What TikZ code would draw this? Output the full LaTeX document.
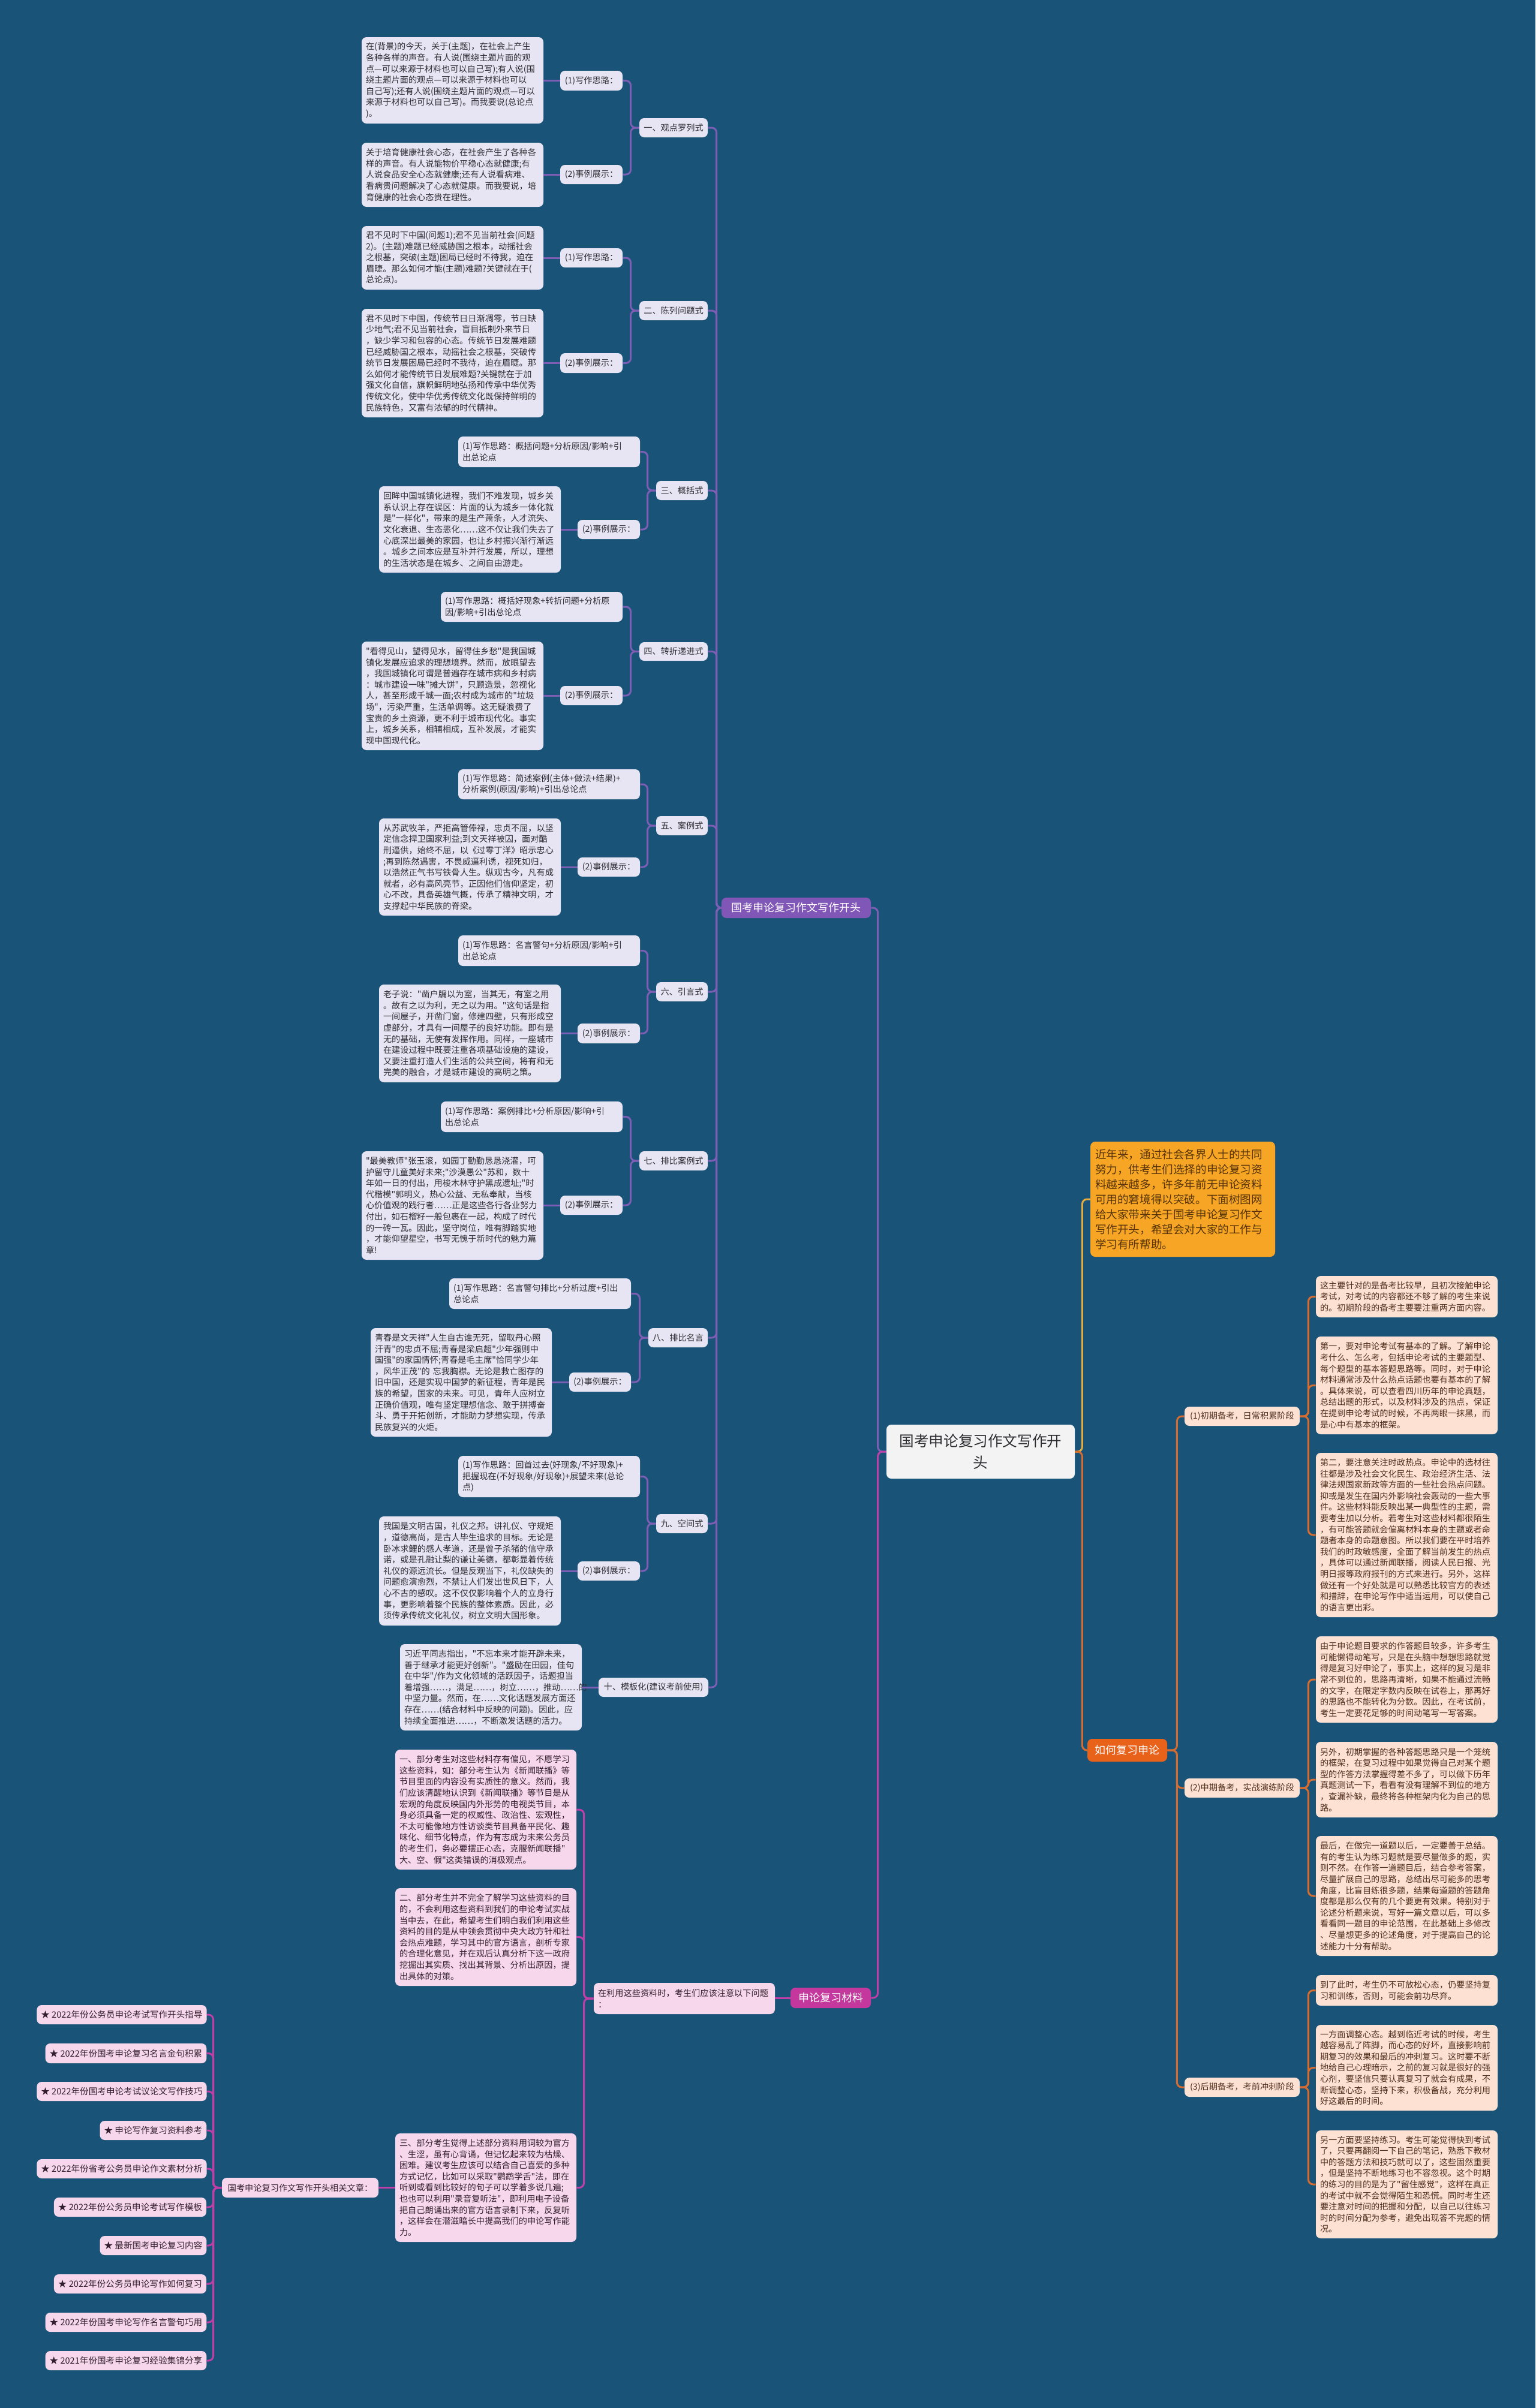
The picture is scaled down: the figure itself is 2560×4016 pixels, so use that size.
\documentclass[tikz,border=0pt]{standalone}
\usepackage{fontspec}
\newfontfamily\cjkf{Noto Sans CJK SC}
\definecolor{bgc}{RGB}{26,83,120}
\definecolor{lavF}{RGB}{231,228,243}
\definecolor{txD}{RGB}{45,45,50}
\definecolor{purL}{RGB}{124,94,180}
\definecolor{purF}{RGB}{128,86,182}
\definecolor{pinkF}{RGB}{246,215,236}
\definecolor{pinkT}{RGB}{50,30,45}
\definecolor{magL}{RGB}{192,62,168}
\definecolor{magF}{RGB}{196,56,158}
\definecolor{peachF}{RGB}{253,226,212}
\definecolor{brT}{RGB}{78,44,26}
\definecolor{orL}{RGB}{214,108,48}
\definecolor{orF}{RGB}{232,98,26}
\definecolor{yelF}{RGB}{246,166,36}
\definecolor{yelT}{RGB}{88,52,8}
\definecolor{yelL}{RGB}{228,172,64}
\definecolor{cenF}{RGB}{243,243,243}
\newcommand\MBx[7]{%
 \pgfmathsetmacro\mbW{(#5-#3)/2}%
 \pgfmathsetmacro\mbH{(#6-#4)/2}%
 \pgfmathsetmacro\mbT{(#5-#3)/2-7}%
 \node[#2,minimum width=\mbW pt,minimum height=\mbH pt,text width=\mbT pt,align=left] (#1) at ({(#3+#5)/2},{(#4+#6)/2}) {#7};}
\newcommand\MLb[7]{%
 \pgfmathsetmacro\mbW{(#5-#3)/2}%
 \pgfmathsetmacro\mbH{(#6-#4)/2}%
 \node[#2,minimum width=\mbW pt,minimum height=\mbH pt] (#1) at ({(#3+#5)/2},{(#4+#6)/2}) {#7};}
\tikzset{
 tx/.style={font=\cjkf\fontsize{7.1}{9.3}\selectfont},
 basebox/.style={rounded corners=4pt, inner xsep=3.5pt, inner ysep=1pt, draw=none},
 lav/.style={basebox, tx, fill=lavF, text=txD},
 pnk/.style={basebox, tx, fill=pinkF, text=pinkT},
 pch/.style={basebox, tx, fill=peachF, text=brT},
 itm/.style={basebox, font=\cjkf\fontsize{7.3}{9.3}\selectfont, fill=pinkF, text=pinkT},
 plab/.style={basebox, font=\cjkf\fontsize{9}{11}\selectfont, fill=purF, text=white},
 mlab/.style={basebox, font=\cjkf\fontsize{9}{11}\selectfont, fill=magF, text=white},
 olab/.style={basebox, font=\cjkf\fontsize{9}{11}\selectfont, fill=orF, text=white},
 intro/.style={basebox, inner xsep=4pt, font=\cjkf\fontsize{9.3}{12.5}\selectfont, fill=yelF, text=yelT},
 cen/.style={basebox, font=\cjkf\fontsize{12.3}{18}\selectfont, fill=cenF, text=txD, align=center},
 lnP/.style={draw=purL, line width=1.5pt, rounded corners=4pt},
 lnM/.style={draw=magL, line width=1.5pt, rounded corners=4pt},
 lnO/.style={draw=orL, line width=1.5pt, rounded corners=4pt},
 lnY/.style={draw=yelL, line width=1.5pt, rounded corners=4pt}
}
\begin{document}
\begin{tikzpicture}[x=0.5pt,y=-0.5pt]
\useasboundingbox (0,0) rectangle (2560,4016);
\fill[bgc] (0,0) rectangle (2560,4016);

% ---------- central ----------
\MLb{C}{cen}{1478}{2376}{1792}{2466}{国考申论复习作文写作开\\头}

% ---------- left purple branch ----------
\MLb{P}{plab}{1203}{1497}{1452}{1531}{国考申论复习作文写作开头}

\MLb{S1}{lav}{1066}{197}{1180}{229}{一、观点罗列式}
\MLb{L1a}{lav}{934}{118}{1038}{151}{(1)写作思路：}
\MLb{L1b}{lav}{934}{275}{1038}{307}{(2)事例展示：}
\MBx{A1}{lav}{603}{62}{906}{206}{在(背景)的今天，关于(主题)，在社会上产生\\各种各样的声音。有人说(围绕主题片面的观\\点—可以来源于材料也可以自己写);有人说(围\\绕主题片面的观点—可以来源于材料也可以\\自己写);还有人说(围绕主题片面的观点—可以\\来源于材料也可以自己写)。而我要说(总论点\\)。}
\MBx{A2}{lav}{603}{238}{906}{345}{关于培育健康社会心态，在社会产生了各种各\\样的声音。有人说能物价平稳心态就健康;有\\人说食品安全心态就健康;还有人说看病难、\\看病贵问题解决了心态就健康。而我要说，培\\育健康的社会心态贵在理性。}

\MLb{S2}{lav}{1066}{502}{1180}{534}{二、陈列问题式}
\MLb{L2a}{lav}{934}{414}{1038}{446}{(1)写作思路：}
\MLb{L2b}{lav}{934}{589}{1038}{622}{(2)事例展示：}
\MBx{B1}{lav}{603}{377}{906}{483}{君不见时下中国(问题1);君不见当前社会(问题\\2)。(主题)难题已经威胁国之根本，动摇社会\\之根基，突破(主题)困局已经时不待我，迫在\\眉睫。那么如何才能(主题)难题?关键就在于(\\总论点)。}
\MBx{B2}{lav}{603}{515}{906}{696}{君不见时下中国，传统节日日渐凋零，节日缺\\少地气;君不见当前社会，盲目抵制外来节日\\，缺少学习和包容的心态。传统节日发展难题\\已经威胁国之根本，动摇社会之根基，突破传\\统节日发展困局已经时不我待，迫在眉睫。那\\么如何才能传统节日发展难题?关键就在于加\\强文化自信，旗帜鲜明地弘扬和传承中华优秀\\传统文化，使中华优秀传统文化既保持鲜明的\\民族特色，又富有浓郁的时代精神。}

\MLb{S3}{lav}{1094}{802}{1180}{834}{三、概括式}
\MBx{L3a}{lav}{764}{728}{1067}{779}{(1)写作思路：概括问题+分析原因/影响+引\\出总论点}
\MLb{L3b}{lav}{963}{867}{1067}{899}{(2)事例展示：}
\MBx{C3}{lav}{632}{811}{935}{955}{回眸中国城镇化进程，我们不难发现，城乡关\\系认识上存在误区：片面的认为城乡一体化就\\是"一样化"，带来的是生产萧条，人才流失、\\文化衰退、生态恶化……这不仅让我们失去了\\心底深出最美的家园，也让乡村振兴渐行渐远\\。城乡之间本应是互补并行发展，所以，理想\\的生活状态是在城乡、之间自由游走。}

\MLb{S4}{lav}{1066}{1071}{1180}{1102}{四、转折递进式}
\MBx{L4a}{lav}{735}{987}{1038}{1037}{(1)写作思路：概括好现象+转折问题+分析原\\因/影响+引出总论点}
\MLb{L4b}{lav}{934}{1144}{1038}{1176}{(2)事例展示：}
\MBx{D4}{lav}{603}{1070}{906}{1251}{"看得见山，望得见水，留得住乡愁"是我国城\\镇化发展应追求的理想境界。然而，放眼望去\\，我国城镇化可谓是普遍存在城市病和乡村病\\：城市建设一味"摊大饼"，只顾造景，忽视化\\人，甚至形成千城一面;农村成为城市的"垃圾\\场"，污染严重，生活单调等。这无疑浪费了\\宝贵的乡土资源，更不利于城市现代化。事实\\上，城乡关系，相辅相成，互补发展，才能实\\现中国现代化。}

\MLb{S5}{lav}{1094}{1361}{1180}{1393}{五、案例式}
\MBx{L5a}{lav}{764}{1283}{1067}{1333}{(1)写作思路：简述案例(主体+做法+结果)+\\分析案例(原因/影响)+引出总论点}
\MLb{L5b}{lav}{963}{1430}{1067}{1462}{(2)事例展示：}
\MBx{E5}{lav}{632}{1365}{935}{1527}{从苏武牧羊，严拒高管俸禄，忠贞不屈，以坚\\定信念捍卫国家利益;到文天祥被囚，面对酷\\刑逼供，始终不屈，以《过零丁洋》昭示忠心\\;再到陈然遇害，不畏威逼利诱，视死如归，\\以浩然正气书写铁骨人生。纵观古今，凡有成\\就者，必有高风亮节，正因他们信仰坚定，初\\心不改，具备英雄气概，传承了精神文明，才\\支撑起中华民族的脊梁。}

\MLb{S6}{lav}{1094}{1638}{1180}{1670}{六、引言式}
\MBx{L6a}{lav}{764}{1560}{1067}{1611}{(1)写作思路：名言警句+分析原因/影响+引\\出总论点}
\MLb{L6b}{lav}{963}{1707}{1067}{1740}{(2)事例展示：}
\MBx{F6}{lav}{632}{1642}{935}{1805}{老子说："凿户牖以为室，当其无，有室之用\\。故有之以为利，无之以为用。"这句话是指\\一间屋子，开凿门窗，修建四壁，只有形成空\\虚部分，才具有一间屋子的良好功能。即有是\\无的基础，无使有发挥作用。同样，一座城市\\在建设过程中既要注重各项基础设施的建设，\\又要注重打造人们生活的公共空间，将有和无\\完美的融合，才是城市建设的高明之策。}

\MLb{S7}{lav}{1066}{1920}{1180}{1952}{七、排比案例式}
\MBx{L7a}{lav}{735}{1837}{1038}{1888}{(1)写作思路：案例排比+分析原因/影响+引\\出总论点}
\MLb{L7b}{lav}{934}{1994}{1038}{2026}{(2)事例展示：}
\MBx{G7}{lav}{603}{1920}{906}{2101}{"最美教师"张玉滚，如园丁勤勤恳恳浇灌，呵\\护留守儿童美好未来;"沙漠愚公"苏和，数十\\年如一日的付出，用梭木林守护黑成遗址;"时\\代楷模"郭明义，热心公益、无私奉献，当核\\心价值观的践行者……正是这些各行各业努力\\付出，如石榴籽一般包裹在一起，构成了时代\\的一砖一瓦。因此，坚守岗位，唯有脚踏实地\\，才能仰望星空，书写无愧于新时代的魅力篇\\章!}

\MLb{S8}{lav}{1081}{2215}{1180}{2247}{八、排比名言}
\MBx{L8a}{lav}{749}{2132}{1052}{2183}{(1)写作思路：名言警句排比+分析过度+引出\\总论点}
\MLb{L8b}{lav}{949}{2289}{1052}{2321}{(2)事例展示：}
\MBx{H8}{lav}{618}{2215}{920}{2396}{青春是文天祥"人生自古谁无死，留取丹心照\\汗青"的忠贞不屈;青春是梁启超"少年强则中\\国强"的家国情怀;青春是毛主席"恰同学少年\\，风华正茂"的~忘我胸襟。无论是救亡图存的\\旧中国，还是实现中国梦的新征程，青年是民\\族的希望，国家的未来。可见，青年人应树立\\正确价值观，唯有坚定理想信念、敢于拼搏奋\\斗、勇于开拓创新，才能助力梦想实现，传承\\民族复兴的火炬。}

\MLb{S9}{lav}{1094}{2525}{1180}{2557}{九、空间式}
\MBx{L9a}{lav}{764}{2428}{1067}{2497}{(1)写作思路：回首过去(好现象/不好现象)+\\把握现在(不好现象/好现象)+展望未来(总论\\点)}
\MLb{L9b}{lav}{963}{2604}{1067}{2636}{(2)事例展示：}
\MBx{I9}{lav}{632}{2529}{935}{2711}{我国是文明古国，礼仪之邦。讲礼仪、守规矩\\，道德高尚，是古人毕生追求的目标。无论是\\卧冰求鲤的感人孝道，还是曾子杀猪的信守承\\诺，或是孔融让梨的谦让美德，都彰显着传统\\礼仪的源远流长。但是反观当下，礼仪缺失的\\问题愈演愈烈，不禁让人们发出世风日下，人\\心不古的感叹。这不仅仅影响着个人的立身行\\事，更影响着整个民族的整体素质。因此，必\\须传承传统文化礼仪，树立文明大国形象。}

\MLb{S10}{lav}{998}{2798}{1181}{2830}{十、模板化(建议考前使用)}
\MBx{J10}{lav}{667}{2742}{970}{2886}{习近平同志指出，"不忘本来才能开辟未来，\\善于继承才能更好创新"。"盛励在田园，佳句\\在中华"/作为文化领域的活跃因子，话题担当\\着增强……，满足……，树立……，推动……的\\中坚力量。然而，在……文化话题发展方面还\\存在……(结合材料中反映的问题)。因此，应\\持续全面推进……，不断激发话题的活力。}

% ---------- bottom magenta branch ----------
\MLb{Q}{mlab}{1318}{3315}{1452}{3349}{申论复习材料}
\MBx{ML}{pnk}{990}{3307}{1292}{3359}{在利用这些资料时，考生们应该注意以下问题\\：}
\MBx{M1}{pnk}{659}{2918}{961}{3118}{一、部分考生对这些材料存有偏见，不愿学习\\这些资料，如：部分考生认为《新闻联播》等\\节目里面的内容没有实质性的意义。然而，我\\们应该清醒地认识到《新闻联播》等节目是从\\宏观的角度反映国内外形势的电视类节目，本\\身必须具备一定的权威性、政治性、宏观性，\\不太可能像地方性访谈类节目具备平民化、趣\\味化、细节化特点，作为有志成为未来公务员\\的考生们，务必要摆正心态，克服新闻联播"\\大、空、假"这类错误的消极观点。}
\MBx{M2}{pnk}{659}{3149}{961}{3312}{二、部分考生并不完全了解学习这些资料的目\\的，不会利用这些资料到我们的申论考试实战\\当中去，在此，希望考生们明白我们利用这些\\资料的目的是从中领会贯彻中央大政方针和社\\会热点难题，学习其中的官方语言，剖析专家\\的合理化意见，并在观后认真分析下这一政府\\挖掘出其实质、找出其背景、分析出原因，提\\出具体的对策。}
\MBx{M3}{pnk}{659}{3558}{961}{3739}{三、部分考生觉得上述部分资料用词较为官方\\、生涩，虽有心背诵，但记忆起来较为枯燥、\\困难。建议考生应该可以结合自己喜爱的多种\\方式记忆，比如可以采取"鹦鹉学舌"法，即在\\听到或看到比较好的句子可以学着多说几遍;\\也也可以利用"录音复听法"，即利用电子设备\\把自己朗诵出来的官方语言录制下来，反复听\\，这样会在潜滋暗长中提高我们的申论写作能\\力。}
\MLb{RA}{pnk}{370}{3632}{631}{3665}{国考申论复习作文写作开头相关文章：}
\MLb{K1}{itm}{63}{3344}{343}{3376}{★ 2022年份公务员申论考试写作开头指导}
\MLb{K2}{itm}{77}{3408}{343}{3441}{★ 2022年份国考申论复习名言金句积累}
\MLb{K3}{itm}{63}{3472}{343}{3504}{★ 2022年份国考申论考试议论文写作技巧}
\MLb{K4}{itm}{168}{3537}{343}{3569}{★ 申论写作复习资料参考}
\MLb{K5}{itm}{63}{3601}{343}{3633}{★ 2022年份省考公务员申论作文素材分析}
\MLb{K6}{itm}{91}{3665}{343}{3697}{★ 2022年份公务员申论考试写作模板}
\MLb{K7}{itm}{168}{3729}{343}{3761}{★ 最新国考申论复习内容}
\MLb{K8}{itm}{91}{3793}{343}{3825}{★ 2022年份公务员申论写作如何复习}
\MLb{K9}{itm}{77}{3857}{343}{3889}{★ 2022年份国考申论写作名言警句巧用}
\MLb{K10}{itm}{77}{3921}{343}{3953}{★ 2021年份国考申论复习经验集锦分享}

% ---------- right branches ----------
\MBx{O}{intro}{1819}{1904}{2125}{2096}{近年来，通过社会各界人士的共同\\努力，供考生们选择的申论复习资\\料越来越多，许多年前无申论资料\\可用的窘境得以突破。下面树图网\\给大家带来关于国考申论复习作文\\写作开头，希望会对大家的工作与\\学习有所帮助。}
\MLb{H}{olab}{1813}{2900}{1946}{2938}{如何复习申论}
\MLb{P1}{pch}{1975}{2346}{2167}{2378}{(1)初期备考，日常积累阶段}
\MLb{P2}{pch}{1975}{2966}{2167}{2998}{(2)中期备考，实战演练阶段}
\MLb{P3}{pch}{1975}{3465}{2167}{3497}{(3)后期备考，考前冲刺阶段}
\MBx{R1}{pch}{2194}{2128}{2497}{2197}{这主要针对的是备考比较早，且初次接触申论\\考试，对考试的内容都还不够了解的考生来说\\的。初期阶段的备考主要要注重两方面内容。}
\MBx{R2}{pch}{2194}{2229}{2497}{2392}{第一，要对申论考试有基本的了解。了解申论\\考什么、怎么考，包括申论考试的主要题型、\\每个题型的基本答题思路等。同时，对于申论\\材料通常涉及什么热点话题也要有基本的了解\\。具体来说，可以查看四川历年的申论真题，\\总结出题的形式，以及材料涉及的热点，保证\\在提到申论考试的时候，不再两眼一抹黑，而\\是心中有基本的框架。}
\MBx{R3}{pch}{2194}{2423}{2497}{2697}{第二，要注意关注时政热点。申论中的选材往\\往都是涉及社会文化民生、政治经济生活、法\\律法规国家新政等方面的一些社会热点问题。\\抑或是发生在国内外影响社会轰动的一些大事\\件。这些材料能反映出某一典型性的主题，需\\要考生加以分析。若考生对这些材料都很陌生\\，有可能答题就会偏离材料本身的主题或者命\\题者本身的命题意图。所以我们要在平时培养\\我们的时政敏感度，全面了解当前发生的热点\\，具体可以通过新闻联播，阅读人民日报、光\\明日报等政府报刊的方式来进行。另外，这样\\做还有一个好处就是可以熟悉比较官方的表述\\和措辞，在申论写作中适当运用，可以使自己\\的语言更出彩。}
\MBx{R4}{pch}{2194}{2729}{2497}{2873}{由于申论题目要求的作答题目较多，许多考生\\可能懒得动笔写，只是在头脑中想想思路就觉\\得是复习好申论了，事实上，这样的复习是非\\常不到位的，思路再清晰，如果不能通过流畅\\的文字，在限定字数内反映在试卷上，那再好\\的思路也不能转化为分数。因此，在考试前，\\考生一定要花足够的时间动笔写一写答案。}
\MBx{R5}{pch}{2194}{2905}{2497}{3031}{另外，初期掌握的各种答题思路只是一个笼统\\的框架，在复习过程中如果觉得自己对某个题\\型的作答方法掌握得差不多了，可以做下历年\\真题测试一下，看看有没有理解不到位的地方\\，查漏补缺，最终将各种框架内化为自己的思\\路。}
\MBx{R6}{pch}{2194}{3062}{2497}{3262}{最后，在做完一道题以后，一定要善于总结。\\有的考生认为练习题就是要尽量做多的题，实\\则不然。在作答一道题目后，结合参考答案，\\尽量扩展自己的思路，总结出尽可能多的思考\\角度，比盲目练很多题，结果每道题的答题角\\度都是那么仅有的几个要更有效果。特别对于\\论述分析题来说，写好一篇文章以后，可以多\\看看同一题目的申论范围，在此基础上多修改\\、尽量想更多的论述角度，对于提高自己的论\\述能力十分有帮助。}
\MBx{R7}{pch}{2194}{3294}{2497}{3345}{到了此时，考生仍不可放松心态，仍要坚持复\\习和训练，否则，可能会前功尽弃。}
\MBx{R8}{pch}{2194}{3377}{2497}{3520}{一方面调整心态。越到临近考试的时候，考生\\越容易乱了阵脚，而心态的好坏，直接影响前\\期复习的效果和最后的冲刺复习。这时要不断\\地给自己心理暗示，之前的复习就是很好的强\\心剂，要坚信只要认真复习了就会有成果，不\\断调整心态，坚持下来，积极备战，充分利用\\好这最后的时间。}
\MBx{R9}{pch}{2194}{3553}{2497}{3733}{另一方面要坚持练习。考生可能觉得快到考试\\了，只要再翻阅一下自己的笔记，熟悉下教材\\中的答题方法和技巧就可以了，这些固然重要\\，但是坚持不断地练习也不容忽视。这个时期\\的练习的目的是为了"留住感觉"，这样在真正\\的考试中就不会觉得陌生和恐慌。同时考生还\\要注意对时间的把握和分配，以自己以往练习\\时的时间分配为参考，避免出现答不完题的情\\况。}

% ---------- connectors: purple ----------
\draw[lnP] (C.west) -- ++(-14,0) |- (P.east);
\foreach \s in {S1,S2,S3,S4,S5,S6,S7,S8,S9,S10}{
  \draw[lnP] (P.west) -- ++(-8,0) |- (\s.east);
}
\foreach \s/\a/\b in {S1/L1a/L1b,S2/L2a/L2b,S3/L3a/L3b,S4/L4a/L4b,S5/L5a/L5b,S6/L6a/L6b,S7/L7a/L7b,S8/L8a/L8b,S9/L9a/L9b}{
  \draw[lnP] (\s.west) -- ++(-14,0) |- (\a.east);
  \draw[lnP] (\s.west) -- ++(-14,0) |- (\b.east);
}
\foreach \l/\t in {L1a/A1,L1b/A2,L2a/B1,L2b/B2,L3b/C3,L4b/D4,L5b/E5,L6b/F6,L7b/G7,L8b/H8,L9b/I9,S10/J10}{
  \draw[lnP] (\l.west) -- (\t.east |- \l.west);
}

% ---------- connectors: magenta ----------
\draw[lnM] (C.west) -- ++(-14,0) |- (Q.east);
\draw[lnM] (Q.west) -- (ML.east |- Q.west);
\foreach \m in {M1,M2,M3}{
  \draw[lnM] (ML.west) -- ++(-16,0) |- (\m.east);
}
\draw[lnM] (M3.west) -- (RA.east |- M3.west);
\foreach \k in {K1,K2,K3,K4,K5,K6,K7,K8,K9,K10}{
  \draw[lnM] (RA.west) -- ++(-14,0) |- (\k.east);
}

% ---------- connectors: right ----------
\draw[lnY] (C.east) -- ++(12,0) |- (O.west);
\draw[lnO] (C.east) -- ++(12,0) |- (H.west);
\foreach \p in {P1,P2,P3}{
  \draw[lnO] (H.east) -- ++(16,0) |- (\p.west);
}
\foreach \p/\r in {P1/R1,P1/R2,P1/R3,P2/R4,P2/R5,P2/R6,P3/R7,P3/R8,P3/R9}{
  \draw[lnO] (\p.east) -- ++(14,0) |- (\r.west);
}
\end{tikzpicture}
\end{document}
